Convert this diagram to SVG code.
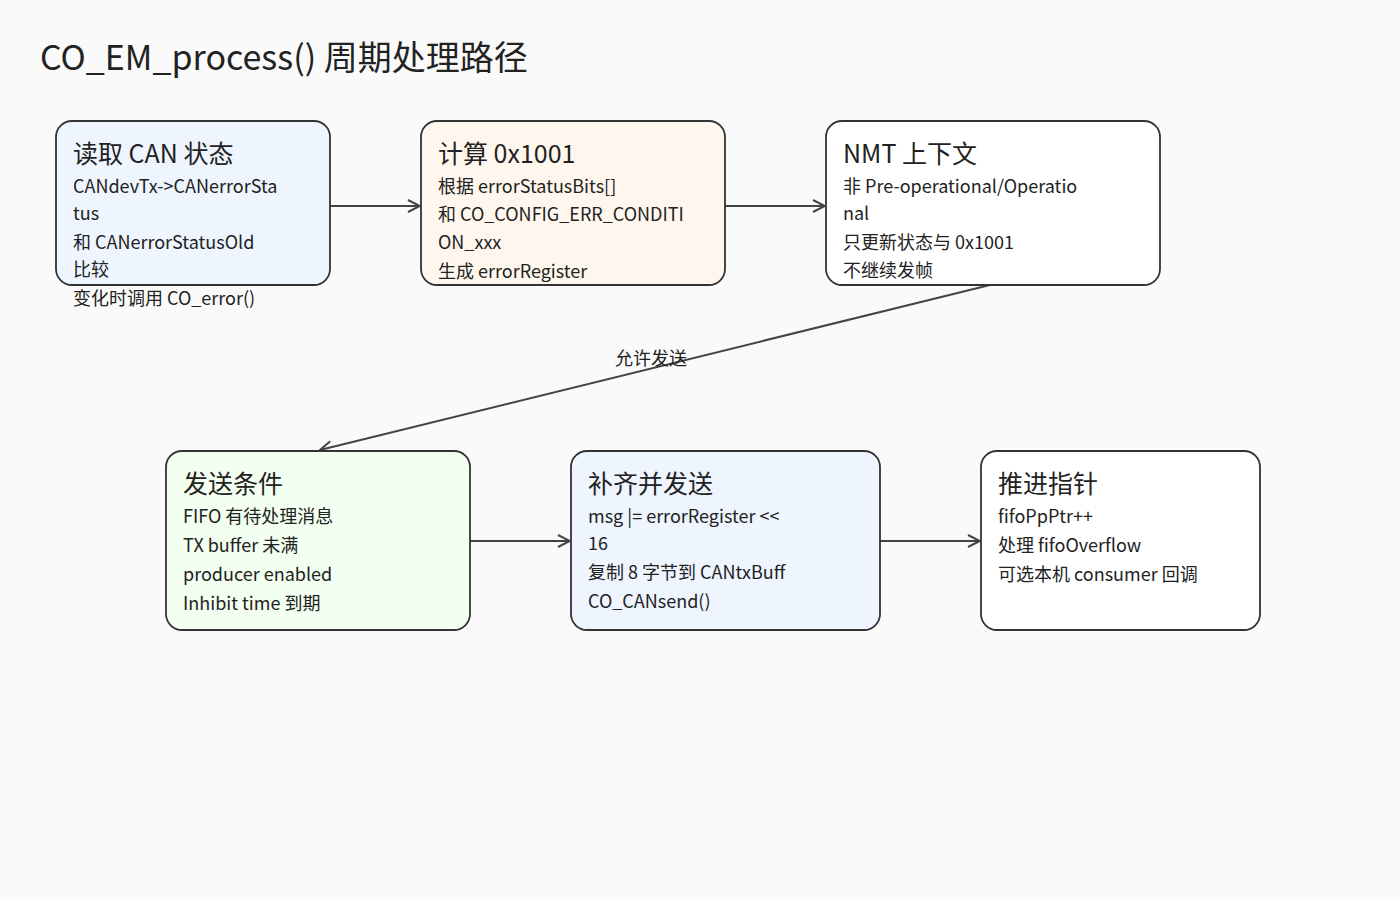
<svg xmlns="http://www.w3.org/2000/svg" width="1400" height="900" viewBox="0 0 1400 900">
<style>
.box{stroke:#333;stroke-width:1.8}
.t{font-family:"Noto Sans CJK SC","Noto Sans",sans-serif;fill:#222;font-size:25px}
.b{font-family:"Noto Sans CJK SC","Noto Sans",sans-serif;fill:#222;font-size:18px}
.e{stroke:#444;stroke-width:2;fill:none}
</style>
<defs>
<marker id="arr" viewBox="0 0 14 14" refX="13" refY="7" markerWidth="14" markerHeight="14" markerUnits="userSpaceOnUse" orient="auto">
<path d="M1,1 L13,7 L1,13" fill="none" stroke="#444" stroke-width="2"/>
</marker>
</defs>
<rect width="1400" height="900" fill="#fafafa"/>
<text x="40" y="70" font-family="Noto Sans CJK SC,Noto Sans,sans-serif" font-size="34" fill="#222">CO_EM_process() 周期处理路径</text>
<g id="edges">
<line class="e" x1="330" y1="206" x2="420" y2="206" marker-end="url(#arr)"/>
<line class="e" x1="725" y1="206" x2="825" y2="206" marker-end="url(#arr)"/>
<line class="e" x1="990" y1="285" x2="320" y2="450" marker-end="url(#arr)"/>
<line class="e" x1="470" y1="541" x2="570" y2="541" marker-end="url(#arr)"/>
<line class="e" x1="880" y1="541" x2="980" y2="541" marker-end="url(#arr)"/>
<text class="b" x="651" y="365" text-anchor="middle">允许发送</text>
</g>
<g id="n1">
<rect class="box" x="56" y="121" width="274" height="164" rx="16" fill="#eef5ff"/>
<text class="t" x="73" y="163">读取 CAN 状态</text>
<text class="b" x="73" y="193">CANdevTx-&gt;CANerrorSta</text>
<text class="b" x="73" y="220">tus</text>
<text class="b" x="73" y="249">和 CANerrorStatusOld</text>
<text class="b" x="73" y="276">比较</text>
<text class="b" x="73" y="305">变化时调用 CO_error()</text>
</g>
<g id="n2">
<rect class="box" x="421" y="121" width="304" height="164" rx="16" fill="#fff7ee"/>
<text class="t" x="438" y="163">计算 0x1001</text>
<text class="b" x="438" y="193">根据 errorStatusBits[]</text>
<text class="b" x="438" y="221">和 CO_CONFIG_ERR_CONDITI</text>
<text class="b" x="438" y="249">ON_xxx</text>
<text class="b" x="438" y="278">生成 errorRegister</text>
</g>
<g id="n3">
<rect class="box" x="826" y="121" width="334" height="164" rx="16" fill="#ffffff"/>
<text class="t" x="843" y="163">NMT 上下文</text>
<text class="b" x="843" y="193">非 Pre-operational/Operatio</text>
<text class="b" x="843" y="220">nal</text>
<text class="b" x="843" y="249">只更新状态与 0x1001</text>
<text class="b" x="843" y="277">不继续发帧</text>
</g>
<g id="n4">
<rect class="box" x="166" y="451" width="304" height="179" rx="16" fill="#f3fff0"/>
<text class="t" x="183" y="493">发送条件</text>
<text class="b" x="183" y="523">FIFO 有待处理消息</text>
<text class="b" x="183" y="552">TX buffer 未满</text>
<text class="b" x="183" y="581">producer enabled</text>
<text class="b" x="183" y="610">Inhibit time 到期</text>
</g>
<g id="n5">
<rect class="box" x="571" y="451" width="309" height="179" rx="16" fill="#eef5ff"/>
<text class="t" x="588" y="493">补齐并发送</text>
<text class="b" x="588" y="523">msg |= errorRegister &lt;&lt;</text>
<text class="b" x="588" y="550">16</text>
<text class="b" x="588" y="579">复制 8 字节到 CANtxBuff</text>
<text class="b" x="588" y="608">CO_CANsend()</text>
</g>
<g id="n6">
<rect class="box" x="981" y="451" width="279" height="179" rx="16" fill="#ffffff"/>
<text class="t" x="998" y="493">推进指针</text>
<text class="b" x="998" y="523">fifoPpPtr++</text>
<text class="b" x="998" y="552">处理 fifoOverflow</text>
<text class="b" x="998" y="581">可选本机 consumer 回调</text>
</g>
</svg>
